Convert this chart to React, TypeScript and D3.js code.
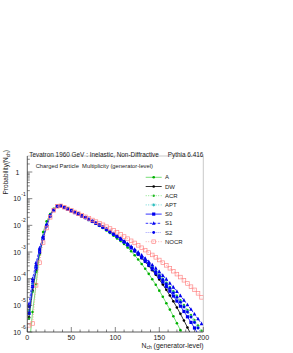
import * as d3 from "d3";

// Nch bin centres (generator-level charged multiplicity)
const nch = [2, 6, 10, 14, 18, 22, 26, 30, 34, 38, 42, 46, 50, 54, 58, 62, 66, 70, 74, 78,
  82, 86, 90, 94, 98, 102, 106, 110, 114, 118, 122, 126, 130, 134, 138, 142, 146, 150, 154, 158,
  162, 166, 170, 174, 178, 182, 186, 190, 194, 198];

// log10 of Probability(Nch)
const logA = [-6.6, -5.25, -4.2, -3.05, -2.25, -1.85, -1.58, -1.38, -1.27, -1.26, -1.31, -1.37, -1.43, -1.5, -1.57, -1.64, -1.71, -1.78, -1.86, -1.94,
  -2.02, -2.1, -2.19, -2.29, -2.39, -2.49, -2.59, -2.7, -2.83, -2.97, -3.12, -3.28, -3.45, -3.63, -3.82, -4.02, -4.23, -4.45, -4.68, -4.92,
  -5.16, -5.41, -5.67, -5.93, -6.2, -6.47, -6.75, -7.03, -7.3, -7.6];
const logDW = [-5.45, -4.45, -3.7, -3.05, -2.5, -2.0, -1.63, -1.4, -1.28, -1.27, -1.32, -1.38, -1.44, -1.5, -1.56, -1.63, -1.7, -1.77, -1.84, -1.91,
  -1.98, -2.06, -2.14, -2.23, -2.32, -2.41, -2.51, -2.61, -2.72, -2.84, -2.96, -3.09, -3.23, -3.37, -3.52, -3.68, -3.85, -4.03, -4.22, -4.42,
  -4.63, -4.85, -5.08, -5.32, -5.57, -5.83, -6.1, -6.38, -6.67, -6.97];
const logACR = [-5.5, -4.5, -3.75, -3.1, -2.5, -2.0, -1.62, -1.4, -1.28, -1.27, -1.32, -1.38, -1.45, -1.51, -1.57, -1.64, -1.71, -1.78, -1.85, -1.92,
  -2.0, -2.08, -2.16, -2.25, -2.34, -2.43, -2.53, -2.63, -2.73, -2.84, -2.95, -3.07, -3.19, -3.31, -3.44, -3.57, -3.71, -3.85, -4.0, -4.15,
  -4.31, -4.47, -4.64, -4.81, -4.99, -5.17, -5.36, -5.55, -5.75, -5.95];
const logAPT = [-5.2, -4.2, -3.55, -2.95, -2.45, -1.98, -1.63, -1.41, -1.28, -1.27, -1.33, -1.39, -1.45, -1.52, -1.58, -1.65, -1.72, -1.79, -1.86, -1.93,
  -2.0, -2.08, -2.16, -2.25, -2.34, -2.43, -2.53, -2.63, -2.73, -2.84, -2.95, -3.07, -3.19, -3.32, -3.45, -3.59, -3.73, -3.88, -4.03, -4.19,
  -4.35, -4.52, -4.69, -4.87, -5.05, -5.24, -5.43, -5.63, -5.84, -6.05];
const logS0 = [-5.3, -4.3, -3.6, -3.0, -2.5, -2.02, -1.65, -1.42, -1.28, -1.27, -1.33, -1.4, -1.46, -1.52, -1.58, -1.65, -1.71, -1.78, -1.85, -1.92,
  -1.99, -2.07, -2.15, -2.24, -2.33, -2.42, -2.52, -2.62, -2.73, -2.84, -2.96, -3.08, -3.21, -3.35, -3.49, -3.64, -3.79, -3.95, -4.12, -4.29,
  -4.47, -4.65, -4.84, -5.03, -5.23, -5.43, -5.64, -5.85, -6.07, -6.3];
const logS1 = [-4.95, -4.0, -3.4, -2.85, -2.4, -1.97, -1.63, -1.42, -1.29, -1.28, -1.33, -1.39, -1.45, -1.51, -1.57, -1.64, -1.7, -1.77, -1.84, -1.91,
  -1.98, -2.06, -2.14, -2.22, -2.31, -2.4, -2.49, -2.59, -2.69, -2.79, -2.9, -3.01, -3.12, -3.24, -3.36, -3.48, -3.61, -3.74, -3.88, -4.02,
  -4.17, -4.32, -4.48, -4.64, -4.81, -4.98, -5.15, -5.33, -5.51, -5.69];
const logS2 = [-5.05, -4.1, -3.5, -2.92, -2.45, -2.0, -1.64, -1.42, -1.29, -1.28, -1.33, -1.39, -1.46, -1.52, -1.58, -1.65, -1.72, -1.79, -1.86, -1.93,
  -2.0, -2.08, -2.16, -2.25, -2.34, -2.43, -2.53, -2.63, -2.74, -2.85, -2.96, -3.08, -3.2, -3.33, -3.46, -3.6, -3.74, -3.89, -4.04, -4.2,
  -4.36, -4.53, -4.7, -4.88, -5.06, -5.25, -5.44, -5.64, -5.85, -6.06];
const logNOCR = [-5.75, -5.68, -4.25, -3.4, -2.65, -2.1, -1.7, -1.44, -1.29, -1.27, -1.32, -1.38, -1.44, -1.5, -1.56, -1.62, -1.68, -1.74, -1.8, -1.86,
  -1.92, -1.98, -2.05, -2.12, -2.19, -2.26, -2.34, -2.42, -2.5, -2.58, -2.66, -2.75, -2.84, -2.93, -3.02, -3.11, -3.2, -3.3, -3.4, -3.5,
  -3.61, -3.72, -3.83, -3.94, -4.06, -4.18, -4.3, -4.42, -4.55, -4.7];

const seriesNames = ["A", "DW", "ACR", "APT", "S0", "S1", "S2", "NOCR"];
const seriesValues = [logA, logDW, logACR, logAPT, logS0, logS1, logS2, logNOCR];

const xTickValues = [0, 50, 100, 150, 200];
const yExponents = [0, -1, -2, -3, -4, -5, -6];

type Style = { line: string; dash: string; marker: string; shape: string; size: number };
const styles: Record<string, Style> = {
  A: { line: "#55d555", dash: "", marker: "#00b000", shape: "circle", size: 1.3 },
  DW: { line: "#000000", dash: "", marker: "#000000", shape: "circle", size: 1.3 },
  ACR: { line: "#66dd66", dash: "1,1.5", marker: "#22bb22", shape: "circle", size: 1.2 },
  APT: { line: "#44cccc", dash: "1,1.5", marker: "#22bbbb", shape: "star", size: 1.6 },
  S0: { line: "#0000ff", dash: "", marker: "#0000ee", shape: "square", size: 1.6 },
  S1: { line: "#0000ff", dash: "2.5,1.5", marker: "#0000ee", shape: "triangle", size: 1.8 },
  S2: { line: "#8888ff", dash: "1,1", marker: "#0000ee", shape: "circle", size: 1.4 },
  NOCR: { line: "#ff9999", dash: "1,1.5", marker: "#ff8888", shape: "open", size: 1.8 },
};

const W = 293, H = 353;
const left = 27.3, right = 203.3, top = 156, bottom = 332;
const font = "'Liberation Sans', Arial, sans-serif";

function Marker({ x, y, st }: { x: number; y: number; st: Style }) {
  const s = st.size;
  if (st.shape === "square") return <rect x={x - s} y={y - s} width={2 * s} height={2 * s} fill={st.marker} />;
  if (st.shape === "open") return <rect x={x - s} y={y - s} width={2 * s} height={2 * s} fill="none" stroke={st.marker} strokeWidth={0.7} />;
  if (st.shape === "triangle")
    return <path d={`M${x},${y - s * 1.2}L${x + s},${y + s * 0.8}L${x - s},${y + s * 0.8}Z`} fill={st.marker} />;
  if (st.shape === "star")
    return <path d={`M${x - s},${y}H${x + s}M${x},${y - s}V${y + s}M${x - s * 0.7},${y - s * 0.7}L${x + s * 0.7},${y + s * 0.7}M${x - s * 0.7},${y + s * 0.7}L${x + s * 0.7},${y - s * 0.7}`} stroke={st.marker} strokeWidth={0.8} />;
  return <circle cx={x} cy={y} r={s} fill={st.marker} />;
}

export default function App() {
  const x = d3.scaleLinear([0, 200], [left, right]);
  const y = d3.scaleLog([1e-6, Math.pow(10, 0.6)], [bottom, top]);

  const line = d3.line<[number, number]>().x((d) => x(d[0])).y((d) => y(d[1]));

  const minorX = d3.range(0, 201, 10);
  const minorY: number[] = [];
  for (let e = -6; e <= 0; e++) for (let k = 1; k < 10; k++) {
    const v = k * Math.pow(10, e);
    if (v <= Math.pow(10, 0.6)) minorY.push(v);
  }

  const legendY0 = 177.3, legendDy = 9.2;

  return (
    <svg width={W} height={H} style={{ position: "absolute", left: 0, top: 0, background: "white" }} fontFamily={font}>
      <defs>
        <clipPath id="frame">
          <rect x={left} y={top} width={right - left} height={bottom - top} />
        </clipPath>
      </defs>

      {/* frame */}
      <line x1={left} x2={right} y1={top} y2={top} stroke="#bbb" strokeWidth={0.8} />
      <line x1={right} x2={right} y1={top} y2={bottom} stroke="#bbb" strokeWidth={0.8} />

      {/* curves */}
      <g clipPath="url(#frame)">
        {seriesNames.map((name, i) => {
          const st = styles[name];
          const pts: [number, number][] = nch.map((n, j) => [n, Math.pow(10, seriesValues[i][j])]);
          return (
            <g key={name}>
              <path d={line(pts) ?? ""} fill="none" stroke={st.line} strokeWidth={0.8} strokeDasharray={st.dash || undefined} />
              {pts.map((p, j) => <Marker key={j} x={x(p[0])} y={y(p[1])} st={st} />)}
            </g>
          );
        })}
      </g>

      {/* axes */}
      <line x1={left} x2={left} y1={top} y2={bottom} stroke="#333" strokeWidth={0.8} />
      <line x1={left} x2={right} y1={bottom} y2={bottom} stroke="#333" strokeWidth={0.8} />
      {minorX.map((v) => (
        <line key={v} x1={x(v)} x2={x(v)} y1={bottom} y2={bottom - (v % 50 === 0 ? 5 : 2.5)} stroke="#333" strokeWidth={0.6} />
      ))}
      {minorY.map((v, i) => {
        const major = Math.abs(Math.log10(v) - Math.round(Math.log10(v))) < 1e-9;
        return <line key={i} x1={left} x2={left + (major ? 5 : 2.5)} y1={y(v)} y2={y(v)} stroke="#333" strokeWidth={0.6} />;
      })}
      {xTickValues.map((v) => (
        <text key={v} x={x(v)} y={339.5} fontSize={7} textAnchor="middle" fill="#222">{v}</text>
      ))}
      {yExponents.map((e) =>
        e === 0 ? (
          <text key={e} x={19.5} y={y(1) + 2.5} fontSize={7} textAnchor="end" fill="#222">1</text>
        ) : (
          <g key={e}>
            <text x={21} y={y(Math.pow(10, e)) + 2.5} fontSize={7} textAnchor="end" fill="#222">10</text>
            <text x={21.3} y={y(Math.pow(10, e)) - 3} fontSize={5} fill="#222">{e}</text>
          </g>
        )
      )}

      {/* axis titles */}
      <text x={203.5} y={347.5} fontSize={6.8} textAnchor="end" fill="#222">
        N<tspan fontSize={5} dy={1.5}>ch</tspan><tspan dy={-1.5}> (generator-level)</tspan>
      </text>
      <text transform={`translate(8.3,150) rotate(-90)`} fontSize={6.5} textAnchor="end" fill="#222">
        Probability(N<tspan fontSize={4.8} dy={1.5}>ch</tspan><tspan dy={-1.5}>)</tspan>
      </text>

      {/* titles */}
      <text x={29.3} y={156.5} fontSize={6.4} fill="#222">Tevatron 1960 GeV : Inelastic, Non-Diffractive</text>
      <text x={203.3} y={156.5} fontSize={6.4} textAnchor="end" fill="#222">Pythia 6.416</text>
      <text x={35.7} y={168} fontSize={5.8} fill="#222" style={{ whiteSpace: "pre" }}>Charged Particle  Multiplicity (generator-level)</text>

      {/* legend */}
      {seriesNames.map((name, i) => {
        const st = styles[name];
        const ly = legendY0 + i * legendDy;
        return (
          <g key={name}>
            <line x1={145.7} x2={161.7} y1={ly} y2={ly} stroke={st.line} strokeWidth={0.8} strokeDasharray={st.dash || undefined} />
            <Marker x={153.7} y={ly} st={st} />
            <text x={165} y={ly + 2.1} fontSize={6} fill="#222">{name}</text>
          </g>
        );
      })}
    </svg>
  );
}
